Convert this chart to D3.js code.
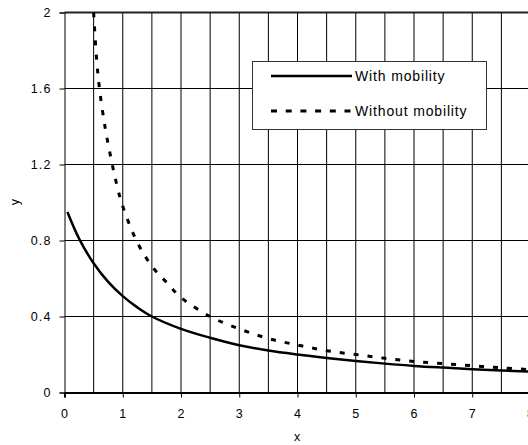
<!DOCTYPE html>
<html>
<head>
<meta charset="utf-8">
<script src="https://cdn.jsdelivr.net/npm/d3@7"></script>
<style>
  html, body { margin: 0; padding: 0; background: #fff; }
  svg { display: block; }
  text { font-family: "Liberation Sans", Arial, sans-serif; fill: #000; }
</style>
</head>
<body>
<svg id="chart" width="528" height="445"></svg>
<script>
// Curve samples
const withX    = [0.05, 0.25, 0.5, 0.75, 1, 1.25, 1.5, 2, 2.5, 3, 3.5, 4, 4.5, 5, 5.5, 6, 6.5, 7, 7.5, 8];
const withY    = [0.95, 0.81, 0.68, 0.582, 0.507, 0.448, 0.4, 0.335, 0.288, 0.249, 0.221, 0.2, 0.182, 0.166, 0.152, 0.14, 0.131, 0.123, 0.116, 0.11];
const withoutX = [0.5, 0.55, 0.6, 0.7, 0.8, 0.9, 1, 1.25, 1.5, 1.75, 2, 2.5, 3, 3.5, 4, 4.5, 5, 5.5, 6, 6.5, 7, 7.5, 8];
const withoutY = [2.0, 1.76, 1.6, 1.39, 1.23, 1.09, 0.98, 0.79, 0.665, 0.58, 0.5, 0.4, 0.335, 0.284, 0.25, 0.22, 0.2, 0.18, 0.163, 0.152, 0.141, 0.13, 0.12];

const xTicks = [0, 1, 2, 3, 4, 5, 6, 7, 8];
const xGrid  = [0.5, 1, 1.5, 2, 2.5, 3, 3.5, 4, 4.5, 5, 5.5, 6, 6.5, 7, 7.5, 8];
const yTicks = [0, 0.4, 0.8, 1.2, 1.6, 2];
const yTickLabels = ["0", "0.4", "0.8", "1.2", "1.6", "2"];
const seriesNames = ["With mobility", "Without mobility"];

const svg = d3.select("#chart");
const x = d3.scaleLinear().domain([0, 8]).range([64.5, 530.5]);
const y = d3.scaleLinear().domain([0, 2]).range([392.5, 12.5]);

const tickFont = { size: "12.5px", spacing: "1.1px" };
const legendFont = { size: "14px", spacing: "0.85px" };

// vertical grid
svg.append("g").selectAll("line").data(xGrid).join("line")
  .attr("x1", d => x(d)).attr("x2", d => x(d))
  .attr("y1", y(2)).attr("y2", y(0))
  .attr("stroke", "#000").attr("stroke-width", 1);

// horizontal grid
svg.append("g").selectAll("line").data(yTicks.filter(d => d > 0 && d < 2)).join("line")
  .attr("x1", x(0)).attr("x2", 530)
  .attr("y1", d => y(d)).attr("y2", d => y(d))
  .attr("stroke", "#000").attr("stroke-width", 1);

// top border
svg.append("line").attr("x1", x(0)).attr("x2", 530).attr("y1", y(2)).attr("y2", y(2))
  .attr("stroke", "#222").attr("stroke-width", 2);

// y axis
const yAxis = d3.axisLeft(y).tickValues(yTicks).tickSize(5).tickPadding(8)
  .tickFormat((d, i) => yTickLabels[i]);
const gy = svg.append("g").attr("transform", `translate(${x(0)},0)`).call(yAxis);
gy.select(".domain").attr("stroke", "#000");
gy.selectAll(".tick line").attr("stroke", "#000");
gy.selectAll("text").style("font-size", tickFont.size).style("letter-spacing", tickFont.spacing)
  .attr("font-family", null);

// x axis
const xAxis = d3.axisBottom(x).tickValues(xTicks).tickSize(5).tickPadding(12)
  .tickFormat(d3.format("d"));
const gx = svg.append("g").attr("transform", `translate(0,${y(0)})`).call(xAxis);
gx.select(".domain").attr("stroke", "#000").attr("stroke-width", 2);
gx.selectAll(".tick line").attr("stroke", "#000");
gx.selectAll("text").style("font-size", tickFont.size).style("letter-spacing", tickFont.spacing)
  .attr("font-family", null);

// axis titles
svg.append("text").attr("x", 297).attr("y", 441).attr("text-anchor", "middle")
  .style("font-size", tickFont.size).text("x");
svg.append("text").attr("transform", "translate(19,202) rotate(-90)").attr("text-anchor", "middle")
  .style("font-size", tickFont.size).text("y");

// curves
svg.append("clipPath").attr("id", "plot-clip").append("rect")
  .attr("x", x(0)).attr("y", y(2) - 1).attr("width", 530 - x(0)).attr("height", y(0) - y(2) + 1);

const line = d3.line().x(d => x(d[0])).y(d => y(d[1])).curve(d3.curveCatmullRom.alpha(0.5));
const withPts = withX.map((v, i) => [v, withY[i]]);
const withoutPts = withoutX.map((v, i) => [v, withoutY[i]]);

const plot = svg.append("g").attr("clip-path", "url(#plot-clip)");
plot.append("path").datum(withoutPts).attr("d", line)
  .attr("fill", "none").attr("stroke", "#000").attr("stroke-width", 3)
  .attr("stroke-dasharray", "5,9");
plot.append("path").datum(withPts).attr("d", line)
  .attr("fill", "none").attr("stroke", "#000").attr("stroke-width", 2.5);

// legend
const lg = svg.append("g");
lg.append("rect").attr("x", 252.5).attr("y", 61.5).attr("width", 234).attr("height", 68)
  .attr("fill", "#fff").attr("stroke", "#333").attr("stroke-width", 1);
const rows = [{ y: 76, dash: null }, { y: 111, dash: "6,8.7" }];
rows.forEach((r, i) => {
  lg.append("line").attr("x1", 271).attr("x2", 352).attr("y1", r.y).attr("y2", r.y)
    .attr("stroke", "#000").attr("stroke-width", i === 0 ? 2.5 : 3)
    .attr("stroke-dasharray", r.dash);
  lg.append("text").attr("x", 355).attr("y", r.y).attr("dy", "0.35em")
    .style("font-size", legendFont.size).style("letter-spacing", legendFont.spacing)
    .text(seriesNames[i]);
});
</script>
</body>
</html>
